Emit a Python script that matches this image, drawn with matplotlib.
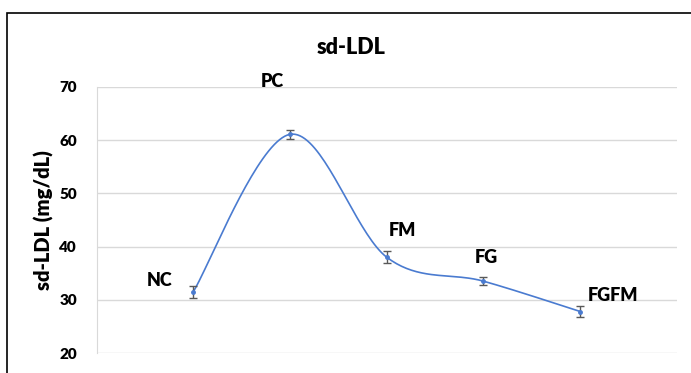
import numpy as np
import matplotlib.pyplot as plt
from matplotlib.patches import Rectangle

groups = ["NC", "PC", "FM", "FG", "FGFM"]
sd_ldl = [31.5, 61.1, 38.0, 33.5, 27.8]
sd_err = [1.1, 0.9, 1.1, 0.8, 1.0]
y_ticks = [20, 30, 40, 50, 60, 70]

plt.rcParams['font.family'] = ['Lato', 'DejaVu Sans']

LINE = '#4a7bd0'
W = 'heavy'


def smooth_curve(xs, ys, n=40):
    # excel-style smoothing: bezier segments with catmull-rom control points
    pts = np.column_stack((xs, ys)).astype(float)
    pad = np.vstack((pts[0], pts, pts[-1]))
    out = []
    t = np.linspace(0, 1, n)[:, None]
    for i in range(1, len(pad) - 2):
        p0, p1, p2, p3 = pad[i - 1], pad[i], pad[i + 1], pad[i + 2]
        c1 = p1 + (p2 - p0) / 6
        c2 = p2 - (p3 - p1) / 6
        seg = ((1 - t) ** 3) * p1 + 3 * ((1 - t) ** 2) * t * c1 + 3 * (1 - t) * t ** 2 * c2 + t ** 3 * p2
        out.append(seg)
    out = np.vstack(out)
    return out[:, 0], out[:, 1]


fig = plt.figure(figsize=(6.91, 3.73), dpi=100)
ax = fig.add_axes([0.1397, 0.0536, 0.8400, 0.7132])

x = np.arange(1, len(groups) + 1)
sx, sy = smooth_curve(x, sd_ldl)
ax.plot(sx, sy, color=LINE, lw=1.2, zorder=3)
ax.errorbar(x, sd_ldl, yerr=sd_err, fmt='o', ms=2.5, color=LINE,
            ecolor='#595959', elinewidth=1, capsize=3, capthick=1, zorder=4)

# point labels
offsets = [(-34, 11), (-18, 53), (16, 27), (3, 24), (33, 16)]
for xi, yi, name, (dx, dy) in zip(x, sd_ldl, groups, offsets):
    ax.annotate(name, (xi, yi), xytext=(dx, dy), textcoords='offset pixels',
                ha='center', va='center', fontsize=13, fontweight=W)

ax.set_xlim(0, 6)
ax.set_ylim(20, 70)
ax.set_yticks(y_ticks)
ax.set_xticks([])
ax.grid(axis='y', color='#d9d9d9', lw=1)
ax.set_axisbelow(True)
for side in ['top', 'right', 'bottom']:
    ax.spines[side].set_visible(False)
ax.spines['left'].set_color('#d9d9d9')
ax.tick_params(axis='y', length=0, pad=14, labelsize=11)
for lab in ax.get_yticklabels():
    lab.set_fontweight(W)
ax.set_ylabel("sd-LDL (mg/dL)", fontsize=14.5, fontweight=W, labelpad=4)

fig.text(0.508, 0.873, "sd-LDL", ha='center', va='center', fontsize=15.5, fontweight=W)

fig.patches.append(Rectangle((7 / 691, -0.1), 1.2, 1 - 13 / 373 + 0.1,
                             transform=fig.transFigure, fill=False,
                             edgecolor='black', lw=1.2))

fig.savefig('out.png', dpi=100)
